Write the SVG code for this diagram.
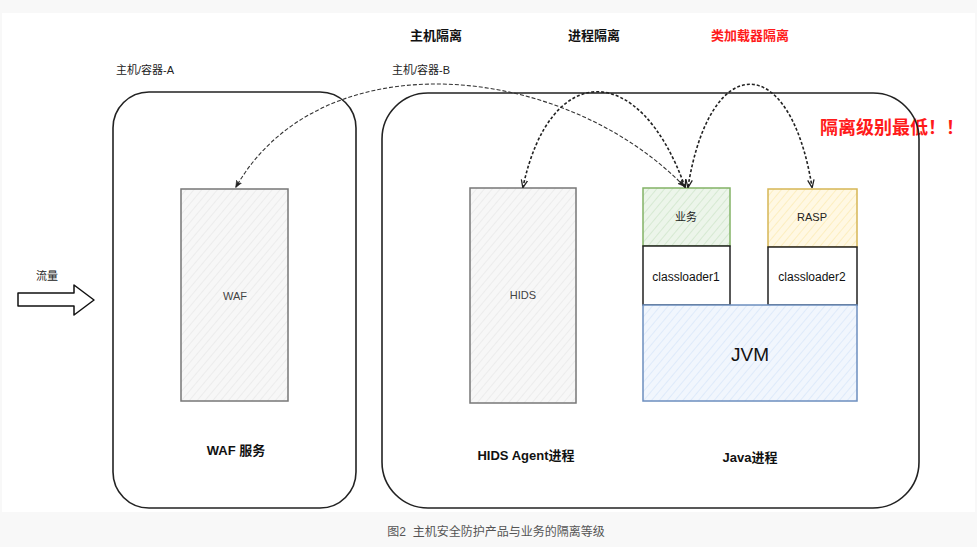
<svg xmlns="http://www.w3.org/2000/svg" width="977" height="547" viewBox="0 0 977 547">
<style>
.t{font-family:"Liberation Sans","Noto Sans CJK SC",sans-serif;text-anchor:middle;dominant-baseline:central}
.h{font-size:13px;font-weight:bold;fill:#111}
.s{font-size:11px;fill:#222}
.in{font-size:11px;fill:#444}
.cont{fill:none;stroke:#222;stroke-width:1.6}
.box{stroke-width:1.5}
.c1{fill:none;stroke:#333;stroke-width:1.1;stroke-dasharray:4 2}
.c2{fill:none;stroke:#222;stroke-width:1.6;stroke-dasharray:3 2}
</style>
<defs>
<pattern id="hg" width="6" height="6" patternUnits="userSpaceOnUse" patternTransform="rotate(40)">
<rect width="6" height="6" fill="#f7f7f7"/><line x1="0" y1="0" x2="0" y2="6" stroke="#e6e6e6" stroke-width="1.2"/></pattern>
<pattern id="hgr" width="6" height="6" patternUnits="userSpaceOnUse" patternTransform="rotate(40)">
<rect width="6" height="6" fill="#ecf5ea"/><line x1="0" y1="0" x2="0" y2="6" stroke="#cfe6cb" stroke-width="1.5"/></pattern>
<pattern id="hy" width="6" height="6" patternUnits="userSpaceOnUse" patternTransform="rotate(40)">
<rect width="6" height="6" fill="#fff8e3"/><line x1="0" y1="0" x2="0" y2="6" stroke="#fcebb5" stroke-width="1.5"/></pattern>
<pattern id="hb" width="6" height="6" patternUnits="userSpaceOnUse" patternTransform="rotate(40)">
<rect width="6" height="6" fill="#f1f6fd"/><line x1="0" y1="0" x2="0" y2="6" stroke="#d8e6fa" stroke-width="1.5"/></pattern>
<marker id="ah" viewBox="0 0 10 10" refX="9" refY="5" markerWidth="7" markerHeight="7" orient="auto-start-reverse" markerUnits="userSpaceOnUse">
<path d="M0,1 L10,5 L0,9 L3,5 Z" fill="#222" stroke="#222" stroke-width="0.8"/></marker>
<marker id="ao" viewBox="0 0 10 10" refX="9" refY="5" markerWidth="8" markerHeight="8" orient="auto-start-reverse" markerUnits="userSpaceOnUse">
<path d="M0,1 L10,5 L0,9" fill="none" stroke="#222" stroke-width="1.6"/></marker>
</defs>
<rect width="977" height="547" fill="#f8f8f8"/>
<rect x="2" y="13" width="973" height="499" fill="#ffffff"/>

<text class="t h" x="436" y="35" font-size="14">主机隔离</text>
<text class="t h" x="594" y="35">进程隔离</text>
<text class="t h" x="750" y="35" style="fill:#ff1a1a">类加载器隔离</text>
<text class="t s" x="145" y="70">主机/容器-A</text>
<text class="t s" x="421" y="70">主机/容器-B</text>
<text class="t" x="892" y="128" style="font-size:18px;font-weight:bold;fill:#ff1a1a">隔离级别最低！！</text>

<g id="flow">
<text class="t s" x="47" y="276">流量</text>
<path d="M18,293 L74,293 L74,285 L94,300 L74,315 L74,306 L18,306 Z" fill="#fff" stroke="#111" stroke-width="1.5" stroke-linejoin="round"/>
</g>

<g id="hostA">
<rect class="cont" x="113" y="92" width="243" height="416" rx="36"/>
<text class="t h" x="236" y="450">WAF 服务</text>
</g>
<g id="hostB">
<rect class="cont" x="382" y="93" width="537" height="415" rx="46"/>
<text class="t h" x="526" y="455">HIDS Agent进程</text>
<text class="t h" x="750" y="457">Java进程</text>
</g>

<g id="waf">
<rect class="box" x="181" y="189" width="107" height="212" fill="url(#hg)" stroke="#777"/>
<text class="t in" x="235" y="296">WAF</text>
</g>
<g id="hids">
<rect class="box" x="470" y="188" width="106" height="215" fill="url(#hg)" stroke="#777"/>
<text class="t in" x="523" y="295">HIDS</text>
</g>
<g id="biz">
<rect class="box" x="643" y="188" width="87" height="58" fill="url(#hgr)" stroke="#82b366"/>
<text class="t s" x="686" y="217">业务</text>
</g>
<g id="cl1">
<rect class="box" x="643" y="246" width="87" height="59" fill="#fff" stroke="#222"/>
<text class="t" x="686" y="277" font-size="12" fill="#111">classloader1</text>
</g>
<g id="rasp">
<rect class="box" x="768" y="189" width="89" height="58" fill="url(#hy)" stroke="#d6b656"/>
<text class="t s" x="812" y="217">RASP</text>
</g>
<g id="cl2">
<rect class="box" x="768" y="247" width="89" height="58" fill="#fff" stroke="#222"/>
<text class="t" x="812" y="277" font-size="12" fill="#111">classloader2</text>
</g>
<g id="jvm">
<rect class="box" x="643" y="305" width="214" height="96" fill="url(#hb)" stroke="#6c8ebf"/>
<text class="t" x="750" y="354" font-size="19" fill="#111">JVM</text>
</g>

<g id="connectors">
<path class="c1" d="M684,186 C560,60 320,40 236,187" marker-start="url(#ah)" marker-end="url(#ah)"/>
<path class="c2" d="M685,187 C640,60 550,60 523,187" marker-start="url(#ao)" marker-end="url(#ao)"/>
<path class="c2" d="M688,187 C710,50 790,50 812,187" marker-start="url(#ao)" marker-end="url(#ao)"/>
</g>

<text class="t" x="496" y="532" font-size="12" fill="#555" xml:space="preserve">图2  主机安全防护产品与业务的隔离等级</text>
</svg>
